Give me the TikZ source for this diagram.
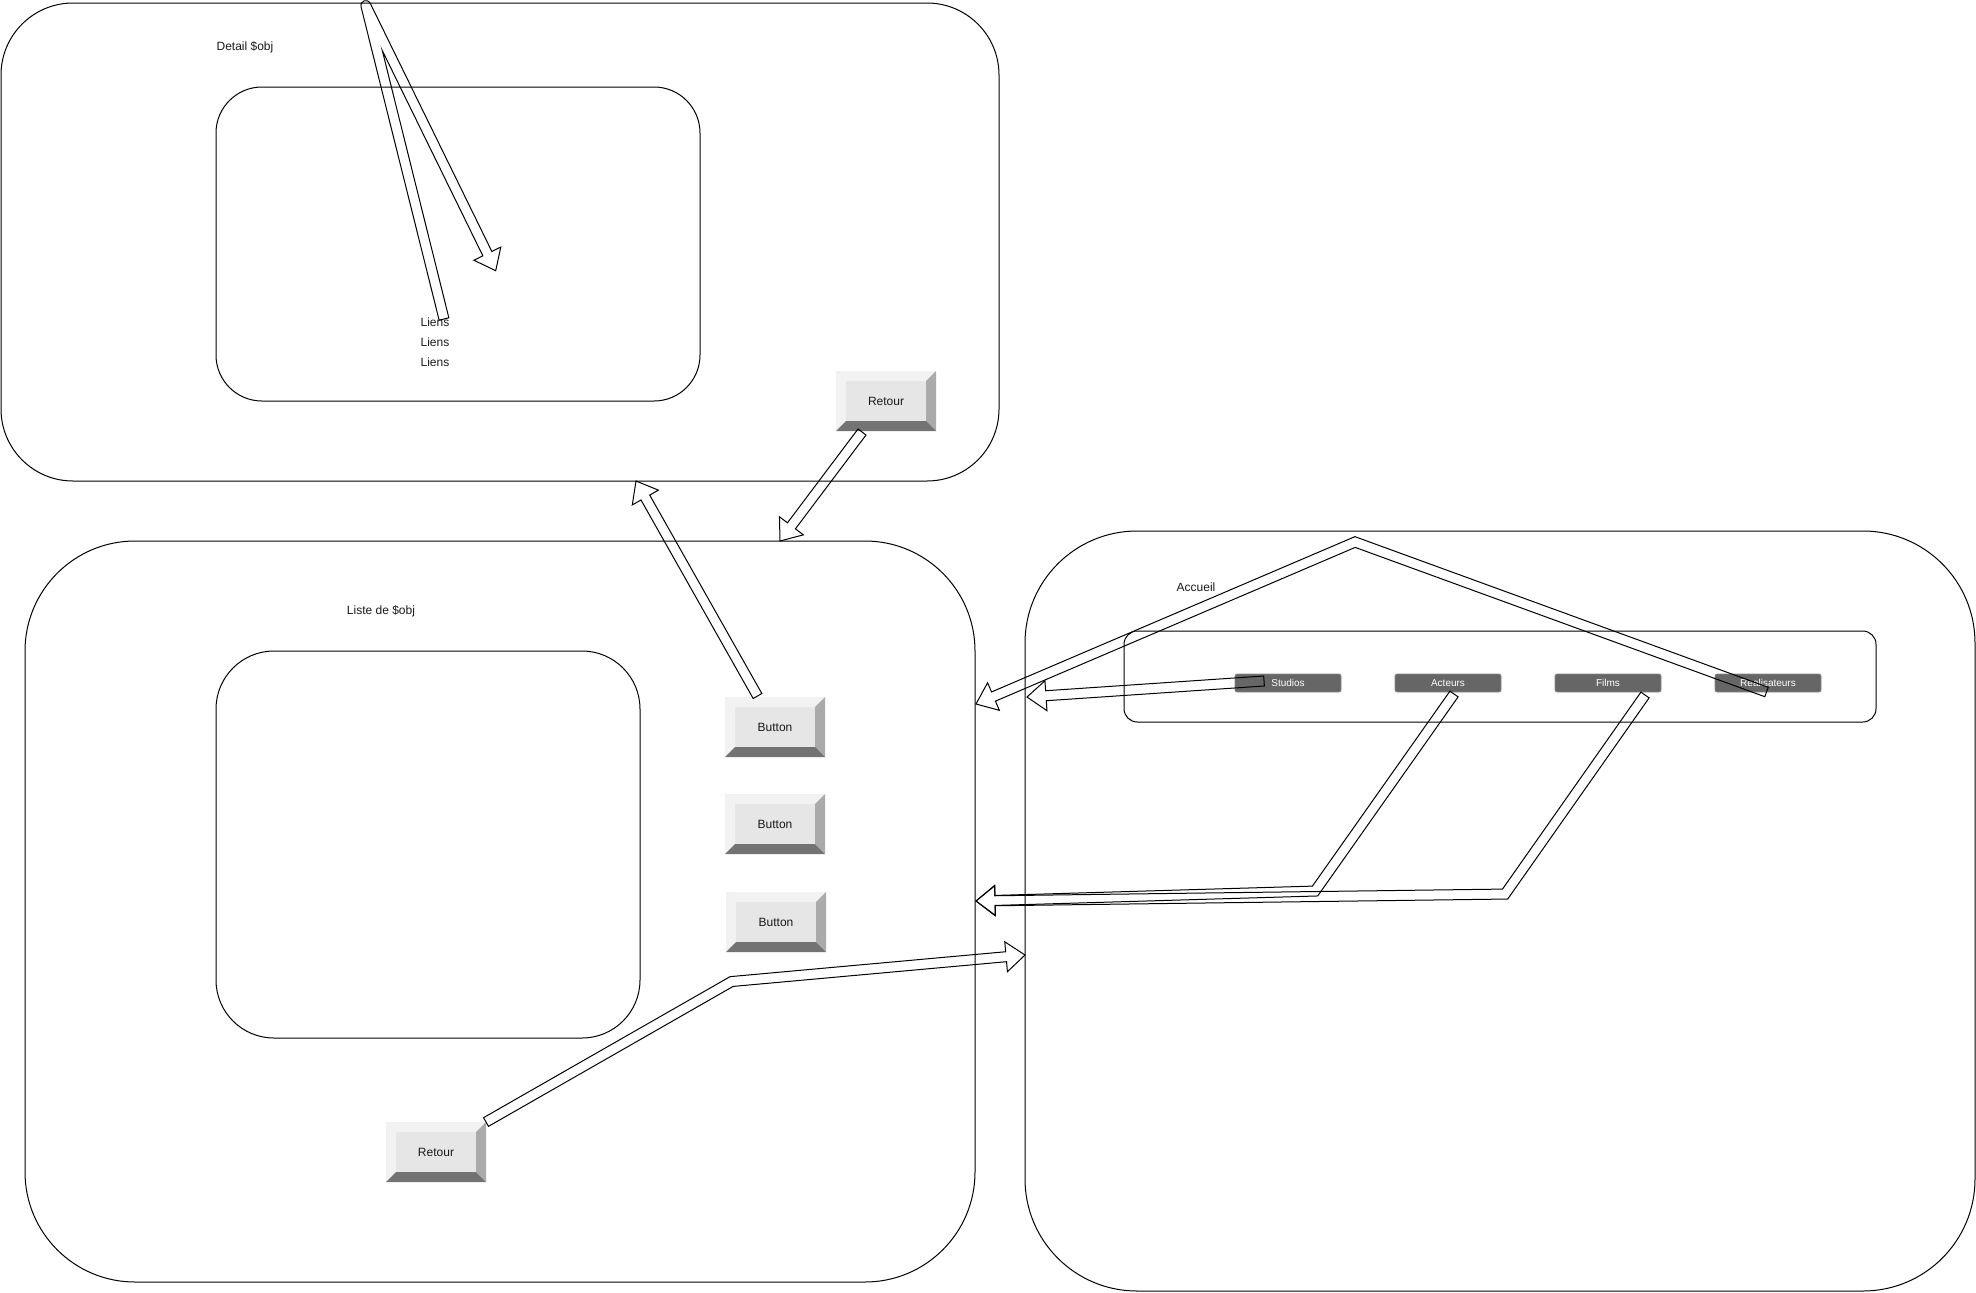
\documentclass[tikz,border=0pt]{standalone}
\usepackage{fontspec}
\setmainfont{Liberation Sans}
\usetikzlibrary{calc,fit}
\definecolor{btnface}{HTML}{E6E6E6}
\definecolor{btnlight}{HTML}{F2F2F2}
\definecolor{btnright}{HTML}{AAAAAA}
\definecolor{btndark}{HTML}{737373}
\definecolor{menugray}{HTML}{666666}
\definecolor{menuedge}{HTML}{8A8A8A}
\definecolor{txt}{HTML}{1A1A1A}
\newcommand\arrSW{3.75pt}
\newcommand\arrHW{11.25pt}
\newcommand\arrHL{14.25pt}
% straight block arrow: prefix, start, end
\newcommand\sarrow[3]{%
  \coordinate (#1h) at ($(#3)!\arrHL!(#2)$);
  \draw[arr] ($(#2)!\arrSW!90:(#3)$) -- ($(#1h)!\arrSW!90:(#3)$) -- ($(#1h)!\arrHW!90:(#3)$) -- (#3)
     -- ($(#1h)!\arrHW!-90:(#3)$) -- ($(#1h)!\arrSW!-90:(#3)$) -- ($(#2)!\arrSW!-90:(#3)$) -- cycle;
}
% coordinates for a block arrow with one bend: prefix, start, bend, end
\newcommand\barrowpts[4]{%
  \coordinate (#1h) at ($(#4)!\arrHL!(#3)$);
  \coordinate (#1pa) at ($(#2)!\arrSW!90:(#3)$);
  \coordinate (#1pb) at ($(#3)!\arrSW!-90:(#2)$);
  \coordinate (#1pc) at ($(#3)!\arrSW!90:(#4)$);
  \coordinate (#1pd) at ($(#1h)!\arrSW!90:(#4)$);
  \coordinate (#1ma) at ($(#2)!\arrSW!-90:(#3)$);
  \coordinate (#1mb) at ($(#3)!\arrSW!90:(#2)$);
  \coordinate (#1mc) at ($(#3)!\arrSW!-90:(#4)$);
  \coordinate (#1md) at ($(#1h)!\arrSW!-90:(#4)$);
  \coordinate (#1hp) at ($(#1h)!\arrHW!90:(#4)$);
  \coordinate (#1hm) at ($(#1h)!\arrHW!-90:(#4)$);
  \coordinate (#1jp) at (intersection of #1pa--#1pb and #1pc--#1pd);
  \coordinate (#1jm) at (intersection of #1ma--#1mb and #1mc--#1md);
}
\newcommand\barrow[4]{%
  \barrowpts{#1}{#2}{#3}{#4}
  \draw[arr] (#1pa) -- (#1jp) -- (#1pd) -- (#1hp) -- (#4) -- (#1hm) -- (#1md) -- (#1jm) -- (#1ma) -- cycle;
}
% same with a round outer join on the + side
\newcommand\barrowround[4]{%
  \barrowpts{#1}{#2}{#3}{#4}
  \draw[arr] (#1pa) -- (#1pb) .. controls ($(#1pb)!-5pt!(#1pa)$) and ($(#1pc)!-5pt!(#1pd)$) .. (#1pc)
     -- (#1pd) -- (#1hp) -- (#4) -- (#1hm) -- (#1md) -- (#1jm) -- (#1ma) -- cycle;
}
\begin{document}
\begin{tikzpicture}[x=0.75pt,y=-0.75pt,
  box/.style={draw=black, line width=0.75pt, inner sep=0pt, outer sep=0pt},
  lbl/.style={font=\fontsize{9}{11}\selectfont, text=txt, inner sep=0pt},
  bevel/.style={minimum width=75pt, minimum height=45pt, inner sep=0pt, fill=btnface,
    text=txt, font=\fontsize{9}{11}\selectfont,
    path picture={
      \fill[btnlight] (path picture bounding box.north west) -- (path picture bounding box.north east)
        -- ([shift={(-10,10)}]path picture bounding box.north east) -- ([shift={(10,10)}]path picture bounding box.north west) -- cycle;
      \fill[btnlight] (path picture bounding box.north west) -- ([shift={(10,10)}]path picture bounding box.north west)
        -- ([shift={(10,-10)}]path picture bounding box.south west) -- (path picture bounding box.south west) -- cycle;
      \fill[btnright] (path picture bounding box.north east) -- (path picture bounding box.south east)
        -- ([shift={(-10,-10)}]path picture bounding box.south east) -- ([shift={(-10,10)}]path picture bounding box.north east) -- cycle;
      \fill[btndark] (path picture bounding box.south west) -- (path picture bounding box.south east)
        -- ([shift={(-10,-10)}]path picture bounding box.south east) -- ([shift={(10,-10)}]path picture bounding box.south west) -- cycle;
    }},
  menubtn/.style={fill=menugray, draw=menuedge, line width=0.5pt, rounded corners=1.5pt,
    minimum width=79.5pt, minimum height=13.5pt, inner sep=0pt, text=white,
    font=\fontsize{7.5}{9}\selectfont},
  arr/.style={draw=black, line width=0.75pt, line join=miter, fill=none}]

\useasboundingbox (0,0) rectangle (1976,1292);
\fill[white] (0,0) rectangle (1976,1292);

% containers
\node[box, rounded corners=54pt, fit={(1,3) (999,481)}] (detail) {};
\node[box, rounded corners=34.5pt, fit={(216,87) (700,401)}] (detailin) {};
\node[box, rounded corners=82.5pt, fit={(25,541) (975,1282)}] (liste) {};
\node[box, rounded corners=43.5pt, fit={(216,651) (640,1038)}] (listein) {};
\node[box, rounded corners=84pt, fit={(1025,531) (1975,1291)}] (accueil) {};
\node[box, rounded corners=10pt, fit={(1124,631) (1876,722)}] (menu) {};

% labels
\node[lbl] (tdetail) at (245,47) {Detail \$obj};
\node[lbl] (liens1) at (435,322) {Liens};
\node[lbl] (liens2) at (435,342) {Liens};
\node[lbl] (liens3) at (435,362) {Liens};
\node[lbl] (tliste) at (381,611) {Liste de \$obj};
\node[lbl] (taccueil) at (1196,587) {Accueil};

% buttons
\node[bevel] (retD) at (886,401) {Retour};
\node[bevel] (btnA) at (775,727) {Button};
\node[bevel] (btnB) at (775,824) {Button};
\node[bevel] (btnC) at (776,922) {Button};
\node[bevel] (retL) at (436,1152) {Retour};

\node[menubtn] (studios) at (1288,683) {Studios};
\node[menubtn] (acteurs) at (1448,683) {Acteurs};
\node[menubtn] (films) at (1608,683) {Films};
\node[menubtn] (realis) at (1768,683) {Realisateurs};

% connector end points
\coordinate (aS) at (862,432);   \coordinate (aE) at (780,541);
\coordinate (bS) at (757.5,696); \coordinate (bE) at (636,481);
\coordinate (cS) at (1264,681);  \coordinate (cE) at (1027,697);
\coordinate (kS) at (1766.5,692); \coordinate (kB) at (1355,542); \coordinate (kE) at (976,704);
\coordinate (dS) at (1454,694);  \coordinate (dB) at (1315,891); \coordinate (dE) at (976,901);
\coordinate (eS) at (1645,695);  \coordinate (eB) at (1505,894); \coordinate (eE) at (976,901);
\coordinate (gS) at (486,1122);  \coordinate (gB) at (731.5,981.5); \coordinate (gE) at (1025,955);
\coordinate (fS) at (444,319);   \coordinate (fB) at (366,6); \coordinate (fE) at (495.7,270.7);

% block arrows
\sarrow{qa}{aS}{aE}
\sarrow{qb}{bS}{bE}
\sarrow{qc}{cS}{cE}
\barrow{qk}{kS}{kB}{kE}
\barrow{qd}{dS}{dB}{dE}
\barrow{qe}{eS}{eB}{eE}
\barrow{qg}{gS}{gB}{gE}
\barrowround{qf}{fS}{fB}{fE}

\end{tikzpicture}
\end{document}
